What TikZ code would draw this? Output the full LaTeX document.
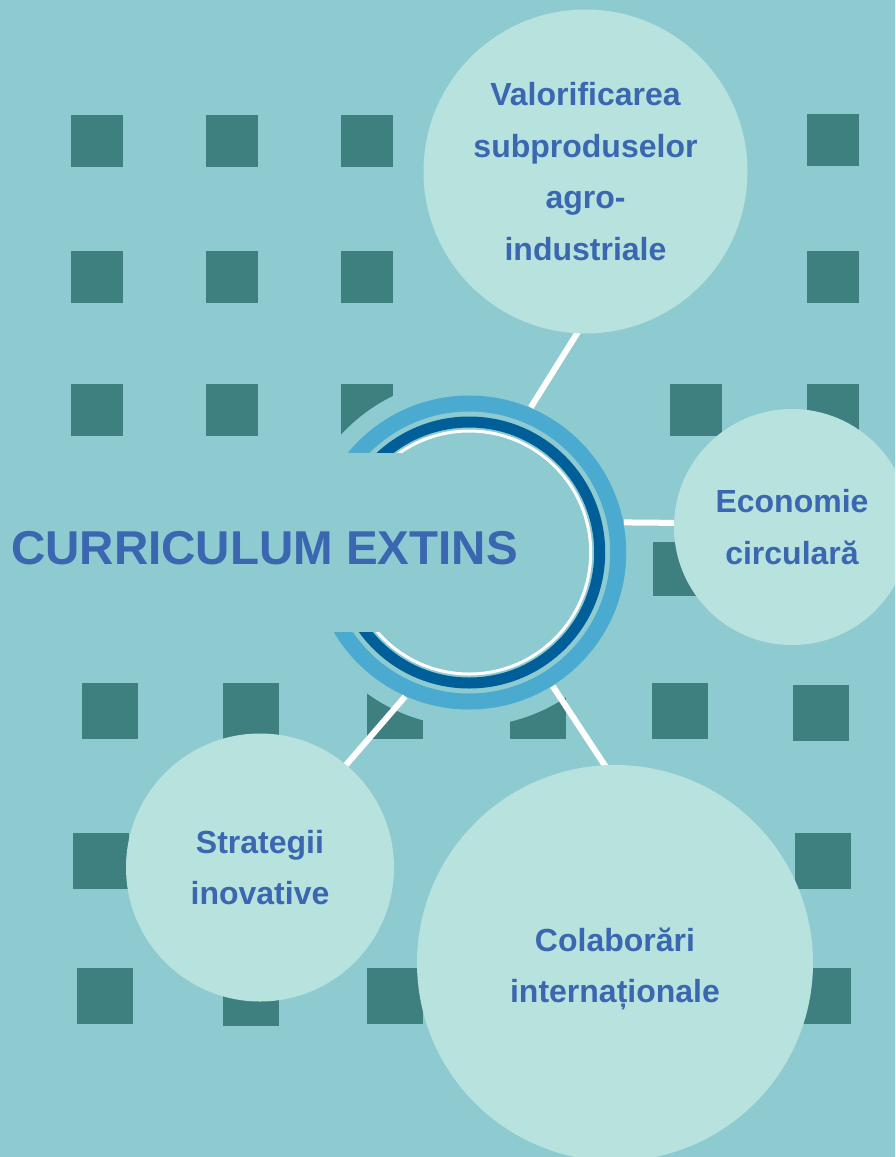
\documentclass[tikz,border=0pt]{standalone}
\usepackage{fontspec}
\setmainfont{Liberation Sans}
\definecolor{bgc}{RGB}{141,203,209}
\definecolor{sqc}{RGB}{62,127,128}
\definecolor{circc}{RGB}{183,226,222}
\definecolor{txtc}{RGB}{58,103,176}
\definecolor{lbc}{RGB}{74,170,208}
\definecolor{dbc}{RGB}{0,94,153}
\pgfdeclarelayer{bgl}
\pgfdeclarelayer{lines}
\pgfsetlayers{bgl,lines,main}
\tikzset{
  sqbox/.style={fill=sqc},
  bubtxt/.style={text=txtc, inner sep=0pt, align=center,
    font=\fontsize{32}{51.5}\selectfont\bfseries},
  bub/.style={circle, fill=circc, bubtxt},
  conn/.style={draw=white, line width=6pt, shorten >=-6pt},
}
\begin{document}
\begin{tikzpicture}[x=1pt,y=-1pt]
\useasboundingbox (0,0) rectangle (895,1157);
\clip (0,0) rectangle (895,1157);
\node[circle, minimum size=315pt, inner sep=0pt] (ring) at (469.2,552.5) {};
\begin{pgfonlayer}{bgl}
\fill[bgc] (0,0) rectangle (895,1157);
% top grid
\foreach \x in {71,206,341} \foreach \y in {115,251,384}
  \fill[sqbox] (\x,\y) rectangle ++(52,52);
\foreach \y in {114,251,384} \fill[sqbox] (807,\y) rectangle ++(52,52);
\fill[sqbox] (670,384) rectangle ++(52,52);
\fill[sqbox] (653,542) rectangle ++(53,54);
% bottom grid
\foreach \x in {82,223,367,510,652} \fill[sqbox] (\x,683) rectangle ++(56,56);
\fill[sqbox] (793,685) rectangle ++(56,56);
\fill[sqbox] (73,833) rectangle ++(56,56);
\fill[sqbox] (795,833) rectangle ++(56,56);
\fill[sqbox] (77,968) rectangle ++(56,56);
\fill[sqbox] (223,970) rectangle ++(56,56);
\fill[sqbox] (367,968) rectangle ++(56,56);
\fill[sqbox] (795,968) rectangle ++(56,56);
% disc behind ring
\fill[bgc] (ring.center) circle (174pt);
% ring
\draw[lbc, line width=16pt] (ring.center) circle (149pt);
\draw[dbc, line width=11pt] (ring.center) circle (130.5pt);
\draw[white, line width=3pt] (ring.center) circle (121.5pt);
% banner
\fill[bgc] (0,453) rectangle (470,632);
\end{pgfonlayer}
\node[anchor=base west, inner sep=0pt, text=txtc,
  font=\fontsize{47.5}{50}\selectfont\bfseries] (title) at (11,564) {CURRICULUM EXTINS};
\node[bub, minimum size=324pt] (valo) at (585.5,171.5) {Valorificarea\\subproduselor\\agro-\\industriale};
\node[bub, minimum size=236pt] (econ) at (792,527) {Economie\\circulară};
\node[bub, minimum size=268pt] (strat) at (260,867.5) {Strategii\\inovative};
\node[bub, minimum size=396pt,
  label={[bubtxt, yshift=-6pt]center:Colaborări\\internaționale}] (colab) at (615,963) {};
\begin{pgfonlayer}{lines}
\draw[conn] (ring.67.7) -- (valo.267.3);
\draw[conn] (ring.11.2) -- (econ.178);
\draw[conn] (ring.246.8) -- (strat.50);
\draw[conn] (ring.302.8) -- (colab.93.5);
\end{pgfonlayer}
\end{tikzpicture}
\end{document}
